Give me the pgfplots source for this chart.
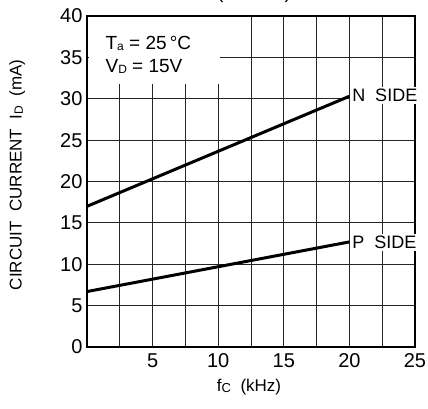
\documentclass[border=0pt]{standalone}
\usepackage{pgfplots}
\pgfplotsset{compat=1.18}
\usepackage{fontspec}
\setmainfont{Liberation Sans}

\begin{document}
\begin{tikzpicture}[x=1pt,y=1pt]
\useasboundingbox (-87,-62) rectangle (341,347);
\begin{axis}[
  at={(0,0)}, anchor=south west,
  scale only axis,
  width=328pt, height=331pt,
  xmin=0, xmax=25, ymin=0, ymax=40,
  xtick={5,10,15,20,25},
  minor xtick={2.5,7.5,12.5,17.5,22.5},
  ytick={0,5,...,40},
  grid=both,
  major grid style={draw=black!85, line width=1pt},
  minor grid style={draw=black!85, line width=1pt},
  major tick length=0pt, minor tick length=0pt,
  axis line style={line width=2.2pt},
  tick label style={font=\fontsize{20}{20}\selectfont},
  /pgf/number format/assume math mode=true,
  xticklabel style={yshift=-3pt},
  yticklabel style={xshift=-1pt},
  xlabel={f\raisebox{-0.15ex}{\fontsize{13}{13}\selectfont C}\ \ (kHz)},
  ylabel={CIRCUIT\ \ CURRENT\ \ I\raisebox{-0.15ex}{\fontsize{12}{12}\selectfont D}\ \ (mA)},
  label style={font=\fontsize{17}{17}\selectfont},
  xlabel style={at={(axis description cs:0.494,-0.12)}, anchor=center},
  ylabel style={at={(axis description cs:-0.213,0.52)}, anchor=center, rotate=0},
  clip=false,
]
% white patch behind the condition text
\fill[white] (axis cs:0.15,31.8) rectangle (axis cs:10.1,39.85);
\node[anchor=base west, font=\fontsize{19}{19}\selectfont, align=left]
  at (axis cs:1.15,36.0) {T\raisebox{-0.15ex}{\fontsize{12}{12}\selectfont a} = 25\,°C};
\node[anchor=base west, font=\fontsize{19}{19}\selectfont, align=left]
  at (axis cs:1.15,33.2) {V\raisebox{-0.15ex}{\fontsize{12}{12}\selectfont D} = 15V};

\addplot[black, line width=3pt] coordinates {(0,17.0) (20,30.3)};
\addplot[black, line width=3pt] coordinates {(0,6.7) (20,12.7)};

\node[anchor=west, fill=white, inner sep=2pt, font=\fontsize{18}{18}\selectfont]
  at (axis cs:20.05,30.4) {N\ \ SIDE};
\node[anchor=west, fill=white, inner sep=2pt, font=\fontsize{18}{18}\selectfont]
  at (axis cs:20.05,12.6) {P\ \ SIDE};
\end{axis}
% title, mostly cut off by the top edge of the picture as in the reference
\node[anchor=base, font=\fontsize{20}{20}\selectfont] at (167,348) {(N-Side)};
\end{tikzpicture}
\end{document}
